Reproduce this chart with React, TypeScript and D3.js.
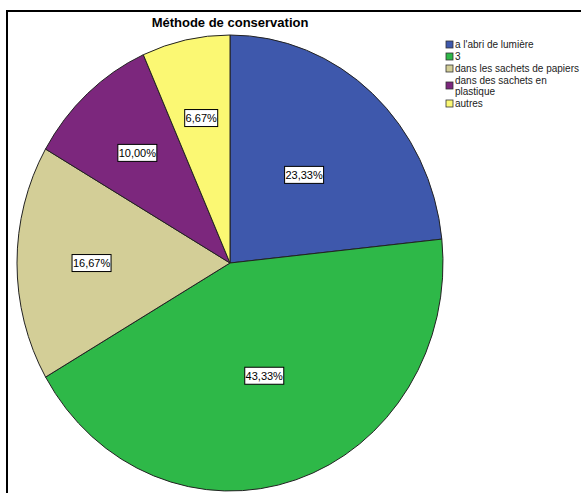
import React from "react";
import * as d3 from "d3";

const categories = [
  "a l'abri de lumière",
  "3",
  "dans les sachets de papiers",
  "dans des sachets en plastique",
  "autres",
];
const percents = [23.33, 43.33, 16.67, 10.0, 6.67];
const legendLines = [
  ["a l'abri de lumière"],
  ["3"],
  ["dans les sachets de papiers"],
  ["dans des sachets en", "plastique"],
  ["autres"],
];
const colors = ["#3E58AC", "#2EB848", "#D3CE97", "#7C277D", "#FBF873"];
const title = "Méthode de conservation";

const W = 581;
const H = 493;
const cx = 230;
const cy = 263;
const rx = 213;
const ry = 228;

export default function App() {
  const pie = d3.pie<number>().value((d) => d).sort(null);
  const arcs = pie(percents);
  const total = d3.sum(percents);
  const arc = d3.arc<d3.PieArcDatum<number>>().innerRadius(0).outerRadius(rx);
  const sy = ry / rx;
  const fmt = (v: number) => v.toFixed(2).replace(".", ",") + "%";

  let ly = 41;
  const legendItems = legendLines.map((lines, i) => {
    const y = ly;
    ly += lines.length * 11 + 1;
    return { lines, y, i };
  });

  return (
    <svg
      width={W}
      height={H}
      style={{ position: "absolute", left: 0, top: 0, fontFamily: "Arial, 'Liberation Sans', sans-serif" }}
    >
      <rect x={0} y={0} width={W} height={H} fill="#fff" />
      <rect x={7} y={11} width={W + 10} height={H + 10} fill="none" stroke="#000" strokeWidth={2} />
      <text x={cx} y={27} textAnchor="middle" fontSize={13} fontWeight="bold" fill="#000">
        {title}
      </text>
      <g transform={`translate(${cx},${cy}) scale(1,${sy})`}>
        {arcs.map((a, i) => (
          <path
            key={i}
            d={arc(a) || ""}
            fill={colors[i]}
            stroke="#222"
            strokeWidth={1}
            vectorEffect="non-scaling-stroke"
          />
        ))}
      </g>
      {arcs.map((a, i) => {
        const share = percents[i] / total;
        const lr = rx * (share >= 0.2 ? 0.52 : 0.65);
        const labelArc = d3.arc<d3.PieArcDatum<number>>().innerRadius(lr).outerRadius(lr);
        const [x, y] = labelArc.centroid(a);
        const px = cx + x;
        const py = cy + y * sy;
        const label = fmt(percents[i]);
        const bw = label.length * 6 + 3;
        return (
          <g key={i}>
            <rect x={px - bw / 2} y={py - 8.5} width={bw} height={17} fill="#fff" stroke="#000" strokeWidth={1} />
            <text x={px} y={py + 4} textAnchor="middle" fontSize={11} fill="#000">
              {label}
            </text>
          </g>
        );
      })}
      {legendItems.map(({ lines, y, i }) => {
        const sqY = lines.length > 1 ? y + 5 : y;
        return (
          <g key={i}>
            <rect x={446} y={sqY} width={7} height={7} fill={colors[i]} stroke="#333" strokeWidth={0.8} />
            {lines.map((t, j) => (
              <text key={j} x={455} y={y + 7 + j * 11} fontSize={10} fill="#222">
                {t}
              </text>
            ))}
          </g>
        );
      })}
    </svg>
  );
}
